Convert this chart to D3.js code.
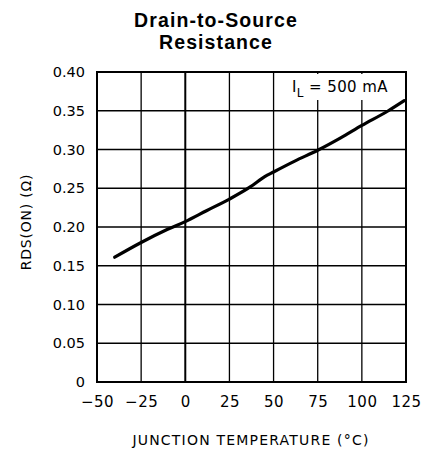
<!DOCTYPE html>
<html><head><meta charset="utf-8">
<script src="https://cdn.jsdelivr.net/npm/d3@7"></script>
<style>body{margin:0;background:#fff}svg{display:block}</style>
</head><body>
<script>
const temps = [-40, -25, -10, 0, 12, 25, 37, 45, 50, 62, 75, 88, 100, 115, 124];
const rds   = [0.161, 0.180, 0.197, 0.207, 0.221, 0.236, 0.252, 0.265, 0.271, 0.285, 0.299, 0.315, 0.331, 0.350, 0.363];
const xTicks = [-50, -25, 0, 25, 50, 75, 100, 125];
const yTicks = [0, 0.05, 0.10, 0.15, 0.20, 0.25, 0.30, 0.35, 0.40];
const yTickLabels = ["0", "0.05", "0.10", "0.15", "0.20", "0.25", "0.30", "0.35", "0.40"];
const titleLines = ["Drain-to-Source", "Resistance"];

const W = 424, H = 451;
const m = {left: 97, right: 406, top: 72, bottom: 382};
const svg = d3.select("body").append("svg").attr("width", W).attr("height", H);
const x = d3.scaleLinear().domain([-50, 125]).range([m.left, m.right]);
const y = d3.scaleLinear().domain([0, 0.40]).range([m.bottom, m.top]);

// title
svg.append("text").attr("text-anchor", "middle")
  .attr("font-family", "Liberation Sans, Arial, sans-serif").attr("font-weight", "bold")
  .attr("font-size", 19.5).attr("letter-spacing", 1.1).attr("fill", "#000")
  .selectAll("tspan").data(titleLines).join("tspan")
  .attr("x", 216).attr("y", (d, i) => 27 + i * 22).text(d => d);

// grid
const g = svg.append("g");
g.selectAll("line.v").data(xTicks).join("line")
  .attr("x1", d => x(d)).attr("x2", d => x(d)).attr("y1", m.top).attr("y2", m.bottom)
  .attr("stroke", "#000").attr("stroke-width", d => d === 0 ? 2 : 1.3);
g.selectAll("line.h").data(yTicks).join("line")
  .attr("y1", d => y(d)).attr("y2", d => y(d)).attr("x1", m.left).attr("x2", m.right)
  .attr("stroke", "#000").attr("stroke-width", 1.3);

// annotation box
svg.append("rect").attr("x", 289).attr("y", m.top + 2).attr("width", 114).attr("height", 26).attr("fill", "#fff");
const ann = svg.append("text").attr("x", 292).attr("y", 92)
  .attr("font-family", "DejaVu Sans, sans-serif").attr("font-size", 15).attr("letter-spacing", 0.4).attr("fill", "#000");
ann.append("tspan").text("I");
ann.append("tspan").attr("font-size", 12).attr("dy", 5).text("L");
ann.append("tspan").attr("dy", -5).text(" = 500 mA");

// border
svg.append("rect").attr("x", m.left).attr("y", m.top).attr("width", m.right - m.left).attr("height", m.bottom - m.top)
  .attr("fill", "none").attr("stroke", "#000").attr("stroke-width", 2);

// curve
svg.append("path").datum(temps.map((t, i) => [t, rds[i]]))
  .attr("d", d3.line().x(d => x(d[0])).y(d => y(d[1])).curve(d3.curveMonotoneX))
  .attr("fill", "none").attr("stroke", "#000").attr("stroke-width", 3.2).attr("stroke-linecap", "round");

// axes
const xAxis = d3.axisBottom(x).tickValues(xTicks).tickSize(0).tickPadding(14).tickFormat(d => d < 0 ? "\u2212" + Math.abs(d) : d);
const xa = svg.append("g").attr("transform", `translate(0,${m.bottom})`).call(xAxis);
xa.select(".domain").remove();
xa.selectAll("text").attr("font-family", "DejaVu Sans, sans-serif").attr("font-size", 15).attr("letter-spacing", 0.5).attr("fill", "#000");

const yAxis = d3.axisLeft(y).tickValues(yTicks).tickSize(0).tickPadding(12).tickFormat((d, i) => yTickLabels[i]);
const ya = svg.append("g").attr("transform", `translate(${m.left},0)`).call(yAxis);
ya.select(".domain").remove();
ya.selectAll("text").attr("font-family", "DejaVu Sans, sans-serif").attr("font-size", 14.5).attr("fill", "#000");

// axis titles
svg.append("text").attr("x", 251).attr("y", 445).attr("text-anchor", "middle")
  .attr("font-family", "DejaVu Sans, sans-serif").attr("font-size", 14).attr("letter-spacing", 1.2).attr("fill", "#000")
  .text("JUNCTION TEMPERATURE (\u00B0C)");
svg.append("text").attr("transform", "translate(31,222) rotate(-90)").attr("text-anchor", "middle")
  .attr("font-family", "DejaVu Sans, sans-serif").attr("font-size", 14).attr("letter-spacing", 0.8).attr("fill", "#000")
  .text("RDS(ON) (\u03A9)");
</script>
</body></html>
